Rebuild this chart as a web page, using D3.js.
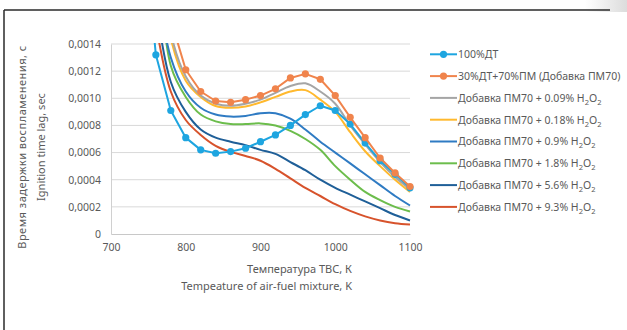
<!DOCTYPE html>
<html>
<head>
<meta charset="UTF-8">
<script src="https://d3js.org/d3.v7.min.js"></script>
<style>
  body { margin: 0; background: #fff; }
  text { font-family: "Noto Sans", "Open Sans", sans-serif; fill: #595959; }
</style>
</head>
<body>
<svg id="chart" width="627" height="330"></svg>
<script>
// temperatures, K
var temps = [740, 760, 780, 800, 820, 840, 860, 880, 900, 920, 940, 960, 980, 1000, 1020, 1040, 1060, 1080, 1100];

// ignition time lag, sec
var dt100   = [0.0025, 0.00132, 0.00091, 0.00071, 0.00062, 0.000595, 0.000607, 0.000632, 0.00068, 0.00073, 0.0008, 0.00088, 0.000945, 0.00091, 0.00081, 0.00067, 0.00054, 0.00044, 0.00034];
var pm70    = [null, 0.0024, 0.00158, 0.00121, 0.00105, 0.00098, 0.00097, 0.00099, 0.00102, 0.00107, 0.00115, 0.00118, 0.00114, 0.00102, 0.00086, 0.00071, 0.00056, 0.00045, 0.00035];
var h2o2_009 = [null, 0.0023, 0.00148, 0.00116, 0.00102, 0.00096, 0.000945, 0.00096, 0.00099, 0.00104, 0.00109, 0.00111, 0.00105, 0.00096, 0.0008, 0.00066, 0.00053, 0.00042, 0.00033];
var h2o2_018 = [null, 0.0022, 0.00144, 0.00113, 0.00101, 0.000943, 0.00093, 0.00094, 0.00097, 0.00101, 0.00105, 0.00106, 0.00099, 0.0009, 0.00075, 0.00061, 0.0005, 0.0004, 0.00031];
var h2o2_09  = [null, 0.0019, 0.0013, 0.00105, 0.00093, 0.00088, 0.000865, 0.00087, 0.00089, 0.00089, 0.00085, 0.00077, 0.00068, 0.0006, 0.00052, 0.00044, 0.00036, 0.00028, 0.00021];
var h2o2_18  = [null, 0.0022, 0.00124, 0.00101, 0.00088, 0.00083, 0.00081, 0.00081, 0.000815, 0.0008, 0.00076, 0.0007, 0.00062, 0.0005, 0.0004, 0.00031, 0.00025, 0.0002, 0.000166];
var h2o2_56  = [null, 0.0017, 0.00112, 0.0009, 0.00077, 0.00071, 0.00068, 0.000655, 0.00062, 0.00059, 0.00053, 0.00047, 0.0004, 0.00034, 0.00029, 0.00024, 0.00019, 0.00014, 0.0001];
var h2o2_93  = [null, 0.00155, 0.00105, 0.00084, 0.00073, 0.00065, 0.000605, 0.000575, 0.00054, 0.00048, 0.00041, 0.00034, 0.00028, 0.00022, 0.00017, 0.00013, 0.0001, 0.00008, 0.00007];

var names = ["100%ДТ", "30%ДТ+70%ПМ (Добавка ПМ70)", "Добавка ПМ70 + 0.09% H2O2", "Добавка ПМ70 + 0.18% H2O2",
             "Добавка ПМ70 + 0.9% H2O2", "Добавка ПМ70 + 1.8% H2O2", "Добавка ПМ70 + 5.6% H2O2", "Добавка ПМ70 + 9.3% H2O2"];
var xTicks = [700, 800, 900, 1000, 1100];
var yTicks = [0, 0.0002, 0.0004, 0.0006, 0.0008, 0.001, 0.0012, 0.0014];

var series = [
  { name: names[0], values: dt100,    color: "#1ea5e0", marker: true },
  { name: names[1], values: pm70,     color: "#f0844c", marker: true },
  { name: names[2], values: h2o2_009, color: "#a5a5a5" },
  { name: names[3], values: h2o2_018, color: "#ffb92e" },
  { name: names[4], values: h2o2_09,  color: "#2f7bc3" },
  { name: names[5], values: h2o2_18,  color: "#6cbd4c" },
  { name: names[6], values: h2o2_56,  color: "#1f5f98" },
  { name: names[7], values: h2o2_93,  color: "#d7532c" }
];

var svg = d3.select("#chart");

// frame of the figure
var grad = svg.append("defs").append("linearGradient").attr("id", "corner")
  .attr("x1", 0).attr("x2", 1).attr("y1", 0).attr("y2", 0);
grad.append("stop").attr("offset", 0).attr("stop-color", "#fff");
grad.append("stop").attr("offset", 1).attr("stop-color", "#dcdcdc");
svg.append("rect").attr("x", 585).attr("y", 0).attr("width", 42).attr("height", 12).attr("fill", "url(#corner)");
svg.append("line").attr("x1", 4).attr("x2", 610).attr("y1", 10).attr("y2", 10)
  .attr("stroke", "#2a2a2a").attr("stroke-width", 1.5);
svg.append("line").attr("x1", 4).attr("x2", 4).attr("y1", 10).attr("y2", 330)
  .attr("stroke", "#2a2a2a").attr("stroke-width", 1.5);

var pLeft = 111, pRight = 410, pTop = 44, pBottom = 234;
var x = d3.scaleLinear().domain([700, 1100]).range([pLeft, pRight]);
var y = d3.scaleLinear().domain([0, 0.0014]).range([pBottom, pTop]);

// gridlines
svg.append("g").selectAll("line").data(yTicks.slice(1)).enter().append("line")
  .attr("x1", pLeft).attr("x2", pRight)
  .attr("y1", function(d) { return y(d); }).attr("y2", function(d) { return y(d); })
  .attr("stroke", "#d9d9d9").attr("stroke-width", 1);

// axes
var fmt = function(d) { return d === 0 ? "0" : d3.format(".4f")(d).replace(".", ","); };
var yAxis = svg.append("g").attr("transform", "translate(" + pLeft + ",0)")
  .call(d3.axisLeft(y).tickValues(yTicks).tickFormat(fmt).tickSize(0).tickPadding(10));
yAxis.select(".domain").attr("stroke", "#d0d0d0");
yAxis.selectAll("text").attr("font-size", 10.5).style("font-family", "\"Noto Sans\", sans-serif").attr("fill", "#595959");

var xAxis = svg.append("g").attr("transform", "translate(0," + pBottom + ")")
  .call(d3.axisBottom(x).tickValues(xTicks).tickFormat(d3.format("d")).tickSize(0).tickPadding(10));
xAxis.select(".domain").attr("stroke", "#c8c8c8");
xAxis.selectAll("text").attr("font-size", 10.5).style("font-family", "\"Noto Sans\", sans-serif").attr("fill", "#595959");

// plot clip
svg.append("clipPath").attr("id", "plot").append("rect")
  .attr("x", pLeft).attr("y", pTop - 1).attr("width", pRight - pLeft + 6).attr("height", pBottom - pTop + 1);

var plot = svg.append("g").attr("clip-path", "url(#plot)");

var straight = d3.line()
  .defined(function(d) { return d.v != null; })
  .x(function(d) { return x(d.t); }).y(function(d) { return y(d.v); });
var smooth = d3.line()
  .defined(function(d) { return d.v != null; })
  .curve(d3.curveCatmullRom.alpha(0.5))
  .x(function(d) { return x(d.t); }).y(function(d) { return y(d.v); });

// draw smooth series first, marker series on top
var order = [7, 6, 5, 4, 3, 2, 0, 1];
order.forEach(function(i) {
  var s = series[i];
  var pts = temps.map(function(t, k) { return { t: t, v: s.values[k] }; });
  plot.append("path").datum(pts)
    .attr("fill", "none").attr("stroke", s.color).attr("stroke-width", 2)
    .attr("stroke-linejoin", "round")
    .attr("d", s.marker ? straight : smooth);
  if (s.marker) {
    plot.selectAll(null).data(pts.filter(function(d) { return d.v != null; })).enter()
      .append("circle")
      .attr("cx", function(d) { return x(d.t); })
      .attr("cy", function(d) { return y(d.v); })
      .attr("r", 3.6).attr("fill", s.color);
  }
});

// axis titles
svg.append("text").attr("transform", "translate(26,147) rotate(-90)")
  .attr("text-anchor", "middle").attr("font-size", 11).attr("letter-spacing", 0.5)
  .text("Время задержки воспламенения, с");
svg.append("text").attr("transform", "translate(45,147) rotate(-90)")
  .attr("text-anchor", "middle").attr("font-size", 11)
  .text("Ignition time lag, sec");
svg.append("text").attr("x", 352).attr("y", 273).attr("text-anchor", "end")
  .attr("font-size", 11).text("Температура ТВС, К");
svg.append("text").attr("x", 352).attr("y", 290).attr("text-anchor", "end")
  .attr("font-size", 11).text("Tempeature  of air-fuel mixture, K");

// legend
var legend = svg.append("g");
series.forEach(function(s, i) {
  var ly = 54.3 + i * 21.8;
  legend.append("line").attr("x1", 430).attr("x2", 457).attr("y1", ly).attr("y2", ly)
    .attr("stroke", s.color).attr("stroke-width", 2);
  if (s.marker) {
    legend.append("circle").attr("cx", 443.5).attr("cy", ly).attr("r", 3.6).attr("fill", s.color);
  }
  var t = legend.append("text").attr("x", 458).attr("y", ly + 3.8).attr("font-size", 10.5);
  var parts = s.name.split("H2O2");
  t.append("tspan").text(parts[0]);
  if (parts.length > 1) {
    t.append("tspan").text("H");
    t.append("tspan").attr("dy", 3).attr("font-size", 7.5).text("2");
    t.append("tspan").attr("dy", -3).text("O");
    t.append("tspan").attr("dy", 3).attr("font-size", 7.5).text("2");
  }
});
</script>
</body>
</html>
